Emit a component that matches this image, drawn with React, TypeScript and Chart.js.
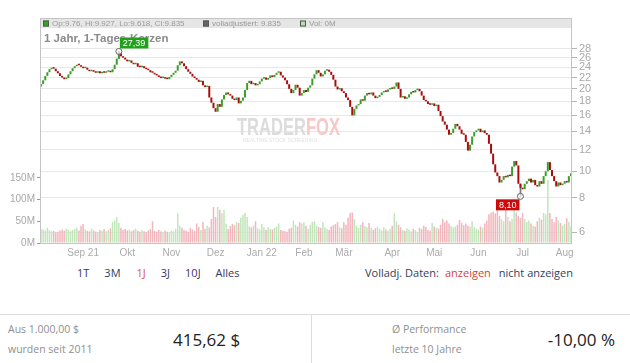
import React, { useEffect, useRef } from "react";
import { Chart, registerables } from "chart.js";
Chart.register(...registerables);

// ---------- DATA ----------
const MONTH_KEYS = ["2021-08", "2021-09", "2021-10", "2021-11", "2021-12", "2022-01", "2022-02", "2022-03", "2022-04", "2022-05", "2022-06", "2022-07", "2022-08"];
const MONTH_TICK_LABELS = ["", "Sep 21", "Okt", "Nov", "Dez", "Jan 22", "Feb", "Mär", "Apr", "Mai", "Jun", "Jul", "Aug"];
const MONTH_TICK_BOLD = [false, true, false, false, false, true, false, false, false, false, false, false, false];

const FIRST_OPEN = 20.4;
const CLOSE_AUG21 = [20.8, 21.5, 22.3, 23.0, 23.6, 23.9, 23.7, 23.2, 22.8, 22.3, 22.0, 21.7, 21.9, 22.6, 23.2, 23.8, 24.2, 24.5, 24.4, 24.1];
const CLOSE_SEP21 = [23.8, 23.9, 23.5, 23.2, 23.4, 23.1, 22.9, 23.2, 22.8, 23.0, 22.9, 23.1, 23.3, 23.0, 23.6, 24.5, 25.8, 27.0, 26.3, 26.0, 25.6];
const CLOSE_OCT21 = [25.2, 25.4, 24.9, 24.6, 24.8, 24.1, 24.0, 24.2, 23.8, 23.6, 23.4, 23.0, 22.9, 22.6, 22.4, 22.1, 21.9, 22.0, 21.8, 21.7, 22.1];
const CLOSE_NOV21 = [22.5, 22.9, 23.3, 24.4, 25.2, 24.8, 24.2, 23.6, 23.1, 22.7, 22.2, 21.9, 21.6, 21.2, 21.4, 20.6, 20.3, 20.5, 18.6, 17.8, 17.0];
const CLOSE_DEC21 = [16.5, 17.6, 17.2, 18.3, 19.0, 19.4, 19.1, 18.9, 18.4, 18.2, 18.6, 17.7, 18.1, 18.6, 19.8, 21.0, 21.4, 20.8, 21.0, 20.6, 20.8, 21.3];
const CLOSE_JAN22 = [21.8, 22.0, 21.6, 21.9, 22.4, 22.1, 22.5, 22.9, 23.1, 22.4, 22.0, 21.5, 20.8, 20.0, 19.3, 19.8, 20.7, 20.2, 18.9, 19.3];
const CLOSE_FEB22 = [19.8, 19.5, 20.2, 20.6, 21.8, 22.6, 23.4, 22.9, 22.2, 22.6, 23.3, 23.5, 23.1, 22.5, 21.6, 20.4, 19.9, 20.1, 19.6];
const CLOSE_MAR22 = [19.3, 18.6, 18.2, 17.2, 16.0, 16.9, 17.4, 17.6, 18.3, 18.1, 18.9, 19.3, 19.1, 19.4, 18.9, 18.5, 18.7, 19.0, 19.4, 19.6, 19.5, 19.9, 20.1];
const CLOSE_APR22 = [20.0, 20.4, 21.1, 20.0, 18.6, 18.8, 18.4, 18.6, 19.1, 19.5, 19.4, 19.8, 20.0, 19.6, 18.9, 18.2, 18.0, 17.6, 17.5, 17.7];
const CLOSE_MAY22 = [17.3, 17.5, 16.6, 15.9, 15.2, 14.8, 14.2, 13.6, 13.8, 14.3, 14.9, 14.6, 14.2, 13.7, 13.6, 12.8, 11.9, 12.5, 13.4, 13.9, 14.1];
const CLOSE_JUN22 = [14.3, 13.9, 14.1, 13.8, 13.6, 12.6, 11.6, 10.6, 9.9, 9.6, 9.1, 9.3, 9.6, 9.5, 9.7, 9.6, 10.4, 10.9, 10.5, 9.0, 8.7];
const CLOSE_JUL22 = [8.6, 9.0, 9.2, 9.4, 9.1, 9.3, 8.9, 8.8, 9.2, 9.0, 9.6, 10.0, 10.8, 10.1, 9.6, 9.2, 8.8, 9.1, 8.9, 9.0];
const CLOSE_AUG22 = [9.2, 9.1, 9.6, 9.835];

// volume in millions
const VOL_AUG21 = [33, 31, 29, 35, 30, 27, 28, 25, 26, 29, 31, 28, 33, 30, 27, 30, 32, 35, 29, 40];
const VOL_SEP21 = [44, 31, 28, 27, 33, 29, 26, 25, 30, 28, 32, 27, 30, 34, 48, 52, 60, 46, 35, 30, 33];
const VOL_OCT21 = [29, 31, 27, 30, 33, 28, 26, 30, 27, 25, 29, 32, 50, 28, 26, 30, 27, 25, 29, 26, 24];
const VOL_NOV21 = [28, 27, 33, 69, 40, 35, 30, 28, 26, 35, 31, 28, 45, 37, 30, 49, 33, 40, 36, 55, 83];
const VOL_DEC21 = [60, 83, 76, 68, 76, 45, 32, 39, 44, 41, 48, 46, 58, 65, 69, 60, 38, 36, 40, 50, 34, 31];
const VOL_JAN22 = [44, 36, 30, 36, 33, 31, 35, 38, 45, 30, 28, 27, 26, 33, 35, 52, 42, 38, 48, 45];
const VOL_FEB22 = [48, 40, 32, 42, 49, 50, 40, 37, 35, 48, 36, 33, 30, 38, 41, 44, 48, 36, 34];
const VOL_MAR22 = [48, 42, 58, 69, 70, 55, 40, 35, 42, 48, 39, 36, 46, 35, 30, 34, 38, 33, 29, 36, 31, 28, 33];
const VOL_APR22 = [40, 69, 50, 42, 36, 30, 28, 34, 31, 27, 33, 30, 26, 35, 32, 40, 37, 30, 28, 46];
const VOL_MAY22 = [38, 35, 33, 42, 55, 48, 52, 45, 40, 36, 38, 42, 53, 47, 41, 45, 40, 38, 50, 36, 33];
const VOL_JUN22 = [31, 38, 35, 45, 52, 66, 70, 72, 68, 76, 62, 55, 50, 78, 60, 50, 55, 76, 70, 62, 58];
const VOL_JUL22 = [69, 55, 48, 52, 45, 40, 38, 50, 58, 54, 69, 66, 145, 69, 55, 48, 60, 52, 46, 40];
const VOL_AUG22 = [44, 57, 49, 38];

const PRICE_TICKS = [6, 8, 10, 12, 14, 16, 18, 20, 22, 24, 26, 28];
const VOLUME_TICKS = [0, 50, 100, 150];

// marked extremes
const HIGH_MARK = { index: 37, value: 27.39, label: "27,39" };
const LOW_MARK = { index: 228, value: 8.1, label: "8,10" };

const HEADER_OHLC = "Op:9.76, Hi:9.927, Lo:9.618, Cl:9.835";
const HEADER_ADJ = "volladjustiert: 9.835";
const HEADER_VOL = "Vol: 0M";
const CHART_TITLE = "1 Jahr, 1-Tages-Kerzen";

const CLOSES_BY_MONTH = [CLOSE_AUG21, CLOSE_SEP21, CLOSE_OCT21, CLOSE_NOV21, CLOSE_DEC21, CLOSE_JAN22, CLOSE_FEB22, CLOSE_MAR22, CLOSE_APR22, CLOSE_MAY22, CLOSE_JUN22, CLOSE_JUL22, CLOSE_AUG22];
const VOLS_BY_MONTH = [VOL_AUG21, VOL_SEP21, VOL_OCT21, VOL_NOV21, VOL_DEC21, VOL_JAN22, VOL_FEB22, VOL_MAR22, VOL_APR22, VOL_MAY22, VOL_JUN22, VOL_JUL22, VOL_AUG22];

// ---------- COLORS ----------
const UP = "#3c9e2a";
const DOWN = "#a80c0c";
const VOL_UP = "#c3e5bb";
const VOL_DOWN = "#f2b6bd";
const FONT = "'Liberation Sans', Arial, sans-serif";
const OS = "'Open Sans', 'Liberation Sans', sans-serif";

export default function App() {
  const ref = useRef<HTMLCanvasElement | null>(null);

  useEffect(() => {
    document.body.style.margin = "0";
    const labels: string[] = [];
    const monthStart = new Map<number, number>();
    CLOSES_BY_MONTH.forEach((arr, m) => {
      monthStart.set(labels.length, m);
      arr.forEach((_, d) => labels.push(`${MONTH_KEYS[m]}-${d + 1}`));
    });
    const closes = CLOSES_BY_MONTH.flat();
    const vols = VOLS_BY_MONTH.flat();
    const opens = closes.map((c, i) => (i === 0 ? FIRST_OPEN : closes[i - 1]));
    const isUp = closes.map((c, i) => c >= opens[i]);

    const wicks = closes.map((c, i) => {
      if (i === HIGH_MARK.index) return [Math.min(opens[i], c), HIGH_MARK.value];
      if (i === LOW_MARK.index) return [LOW_MARK.value, Math.max(opens[i], c)];
      return null;
    });

    const overlay = {
      id: "overlay",
      beforeDatasetsDraw(chart: any) {
        const { ctx, chartArea: a } = chart;
        ctx.save();
        // watermark
        ctx.font = `bold 23px ${FONT}`;
        ctx.textBaseline = "alphabetic";
        ctx.translate(237, 135);
        ctx.scale(0.72, 1);
        ctx.fillStyle = "#dcdcdc";
        ctx.fillText("TRADER", 0, 0);
        const w = ctx.measureText("TRADER").width;
        ctx.fillStyle = "#f6c9c9";
        ctx.fillText("FOX", w, 0);
        ctx.restore();
        ctx.save();
        ctx.font = `5px ${FONT}`;
        ctx.fillStyle = "#e2e2e2";
        ctx.fillText("REALTIME STOCK SCREENING", 243, 142);
        ctx.restore();

        // header strip
        ctx.save();
        ctx.fillStyle = "#e6e6e6";
        ctx.fillRect(a.left, a.top, a.right - a.left, 10);
        ctx.font = `8px ${FONT}`;
        ctx.textBaseline = "middle";
        const cy = a.top + 5.5;
        const sq = (x: number, fill: string) => {
          ctx.fillStyle = fill;
          ctx.fillRect(x, cy - 3, 6, 6);
          ctx.strokeStyle = "#555";
          ctx.lineWidth = 1;
          ctx.strokeRect(x + 0.5, cy - 2.5, 5, 5);
        };
        sq(43, "#3aa22a");
        ctx.fillStyle = "#9a9a9a";
        ctx.fillText(HEADER_OHLC, 52, cy);
        sq(203, "#666");
        ctx.fillStyle = "#9a9a9a";
        ctx.fillText(HEADER_ADJ, 212, cy);
        sq(300, "#b9e0b0");
        ctx.fillStyle = "#9a9a9a";
        ctx.fillText(HEADER_VOL, 309, cy);

        // title
        ctx.font = `bold 11.5px ${FONT}`;
        ctx.fillStyle = "#8a8a8a";
        ctx.textBaseline = "alphabetic";
        ctx.fillText(CHART_TITLE, 44, 42);
        ctx.restore();
      },
      afterDatasetsDraw(chart: any) {
        const { ctx, chartArea: a, scales } = chart;
        ctx.save();
        ctx.strokeStyle = "#c4c4c4";
        ctx.lineWidth = 1;
        ctx.strokeRect(a.left + 0.5, a.top + 0.5, a.right - a.left - 1, a.bottom - a.top);
        const x = scales.x;
        const y = scales.y;
        const mark = (m: any, fill: string, above: boolean) => {
          const px = x.getPixelForValue(m.index);
          const py = y.getPixelForValue(m.value);
          ctx.beginPath();
          ctx.arc(px, py, 3, 0, Math.PI * 2);
          ctx.fillStyle = "rgba(255,255,255,0.6)";
          ctx.fill();
          ctx.strokeStyle = "#666";
          ctx.stroke();
          ctx.font = `9px ${FONT}`;
          const tw = ctx.measureText(m.label).width + 6;
          const bx = above ? px + 1 : px - 1 - tw;
          const by = above ? py - 14 : py + 3;
          ctx.fillStyle = fill;
          ctx.fillRect(bx, by, tw, 11);
          ctx.fillStyle = "#fff";
          ctx.textBaseline = "middle";
          ctx.fillText(m.label, bx + 3, by + 6);
        };
        mark(HIGH_MARK, "#22a01c", true);
        mark(LOW_MARK, "#cc0a0a", false);
        ctx.restore();
      },
    };

    const chart = new Chart(ref.current as HTMLCanvasElement, {
      type: "bar",
      data: {
        labels,
        datasets: [
          {
            label: "wick",
            data: wicks as any,
            yAxisID: "y",
            backgroundColor: "#777",
            barThickness: 1,
            grouped: false,
            order: 1,
          } as any,
          {
            label: "candles",
            data: closes.map((c, i) => [opens[i], c]) as any,
            yAxisID: "y",
            backgroundColor: isUp.map((u) => (u ? UP : DOWN)),
            categoryPercentage: 1,
            barPercentage: 0.95,
            minBarLength: 1.5,
            grouped: false,
            order: 0,
          } as any,
          {
            label: "volume",
            data: vols,
            yAxisID: "yv",
            backgroundColor: isUp.map((u) => (u ? VOL_UP : VOL_DOWN)),
            categoryPercentage: 1,
            barPercentage: 0.72,
            grouped: false,
            order: 2,
          } as any,
        ],
      },
      options: {
        animation: false,
        responsive: false,
        events: [],
        layout: { padding: { top: 18, left: 0, right: 0, bottom: 0 } },
        plugins: { legend: { display: false }, tooltip: { enabled: false } },
        scales: {
          x: {
            type: "category",
            offset: true,
            border: { display: false },
            grid: {
              offset: false,
              color: (c: any) => (monthStart.has(c.index) && c.index > 0 ? "#dadada" : "rgba(0,0,0,0)"),
              tickColor: (c: any) => (monthStart.has(c.index) && c.index > 0 ? "#cfcfcf" : "rgba(0,0,0,0)"),
              tickLength: 3,
            },
            ticks: {
              autoSkip: false,
              maxRotation: 0,
              minRotation: 0,
              padding: 1,
              callback: (_v: any, i: number) => {
                const m = monthStart.get(i);
                return m === undefined || m === 0 ? null : MONTH_TICK_LABELS[m];
              },
              color: (c: any) => {
                const m = monthStart.get(c.index);
                return m !== undefined && MONTH_TICK_BOLD[m] ? "#8c8c8c" : "#ababab";
              },
              font: (c: any) => {
                const m = monthStart.get(c.index);
                return { family: FONT, size: 10, weight: m !== undefined && MONTH_TICK_BOLD[m] ? "bold" : "normal" };
              },
            },
            afterFit: (s: any) => {
              s.height = 22;
            },
          },
          y: {
            type: "logarithmic",
            position: "right",
            min: 5.47,
            max: 36.3,
            border: { display: false },
            grid: { color: "#e8e8e8", tickColor: "#b5b5b5", tickLength: 5 },
            afterBuildTicks: (s: any) => {
              s.ticks = PRICE_TICKS.map((v) => ({ value: v }));
            },
            ticks: {
              padding: 2,
              color: "#a8a8a8",
              font: { family: FONT, size: 11 },
              callback: (v: any) => String(v),
            },
            afterFit: (s: any) => {
              s.width = 58;
            },
          },
          yv: {
            type: "linear",
            position: "left",
            min: 0,
            max: 518,
            border: { display: false },
            grid: { drawOnChartArea: false, tickColor: "#9a9a9a", tickLength: 3 },
            afterBuildTicks: (s: any) => {
              s.ticks = VOLUME_TICKS.map((v) => ({ value: v }));
            },
            ticks: {
              padding: 2,
              color: "#a8a8a8",
              font: { family: FONT, size: 10 },
              callback: (v: any) => `${v}M`,
            },
            afterFit: (s: any) => {
              s.width = 40;
            },
          },
        },
      } as any,
      plugins: [overlay],
    });
    return () => chart.destroy();
  }, []);

  const t = (extra: React.CSSProperties): React.CSSProperties => ({
    position: "absolute",
    fontFamily: OS,
    whiteSpace: "nowrap",
    ...extra,
  });

  return (
    <div style={{ position: "relative", width: 630, height: 363, background: "#fff", overflow: "hidden" }}>
      <style>{"body{margin:0}"}</style>
      <canvas ref={ref} width={630} height={265} style={{ position: "absolute", left: 0, top: 0, width: 630, height: 265 }} />
      <div style={t({ left: 77, top: 265, fontSize: 11, lineHeight: "16px" })}>
        <span style={{ color: "#33415a" }}>1T</span>
        <span style={{ color: "#33415a", marginLeft: 15 }}>3M</span>
        <span style={{ color: "#e0533a", marginLeft: 16 }}>1J</span>
        <span style={{ color: "#3b3560", marginLeft: 15 }}>3J</span>
        <span style={{ color: "#3b3560", marginLeft: 15 }}>10J</span>
        <span style={{ color: "#3b3560", marginLeft: 15 }}>Alles</span>
      </div>
      <div style={t({ left: 365, top: 265, fontSize: 11, lineHeight: "16px", color: "#33415a" })}>
        Volladj. Daten:
        <span style={{ color: "#d0463a", marginLeft: 6 }}>anzeigen</span>
        <span style={{ color: "#33415a", marginLeft: 8 }}>nicht anzeigen</span>
      </div>
      <div style={{ position: "absolute", left: 0, top: 314, width: 630, height: 1, background: "#dddddd" }} />
      <div style={{ position: "absolute", left: 311, top: 315, width: 1, height: 48, background: "#dddddd" }} />
      <div style={t({ left: 8, top: 321, fontSize: 10.5, lineHeight: "16px", color: "#8f8f8f" })}>Aus 1.000,00 $</div>
      <div style={t({ left: 8, top: 341, fontSize: 10.5, lineHeight: "16px", color: "#8f8f8f" })}>wurden seit 2011</div>
      <div style={t({ left: 173, top: 328, fontSize: 17, lineHeight: "24px", color: "#222" })}>415,62 $</div>
      <div style={t({ left: 392, top: 321, fontSize: 10.5, lineHeight: "16px", color: "#8f8f8f" })}>Ø Performance</div>
      <div style={t({ left: 392, top: 341, fontSize: 10.5, lineHeight: "16px", color: "#8f8f8f" })}>letzte 10 Jahre</div>
      <div style={t({ right: 15, top: 328, fontSize: 17, lineHeight: "24px", color: "#222" })}>-10,00 %</div>
    </div>
  );
}
